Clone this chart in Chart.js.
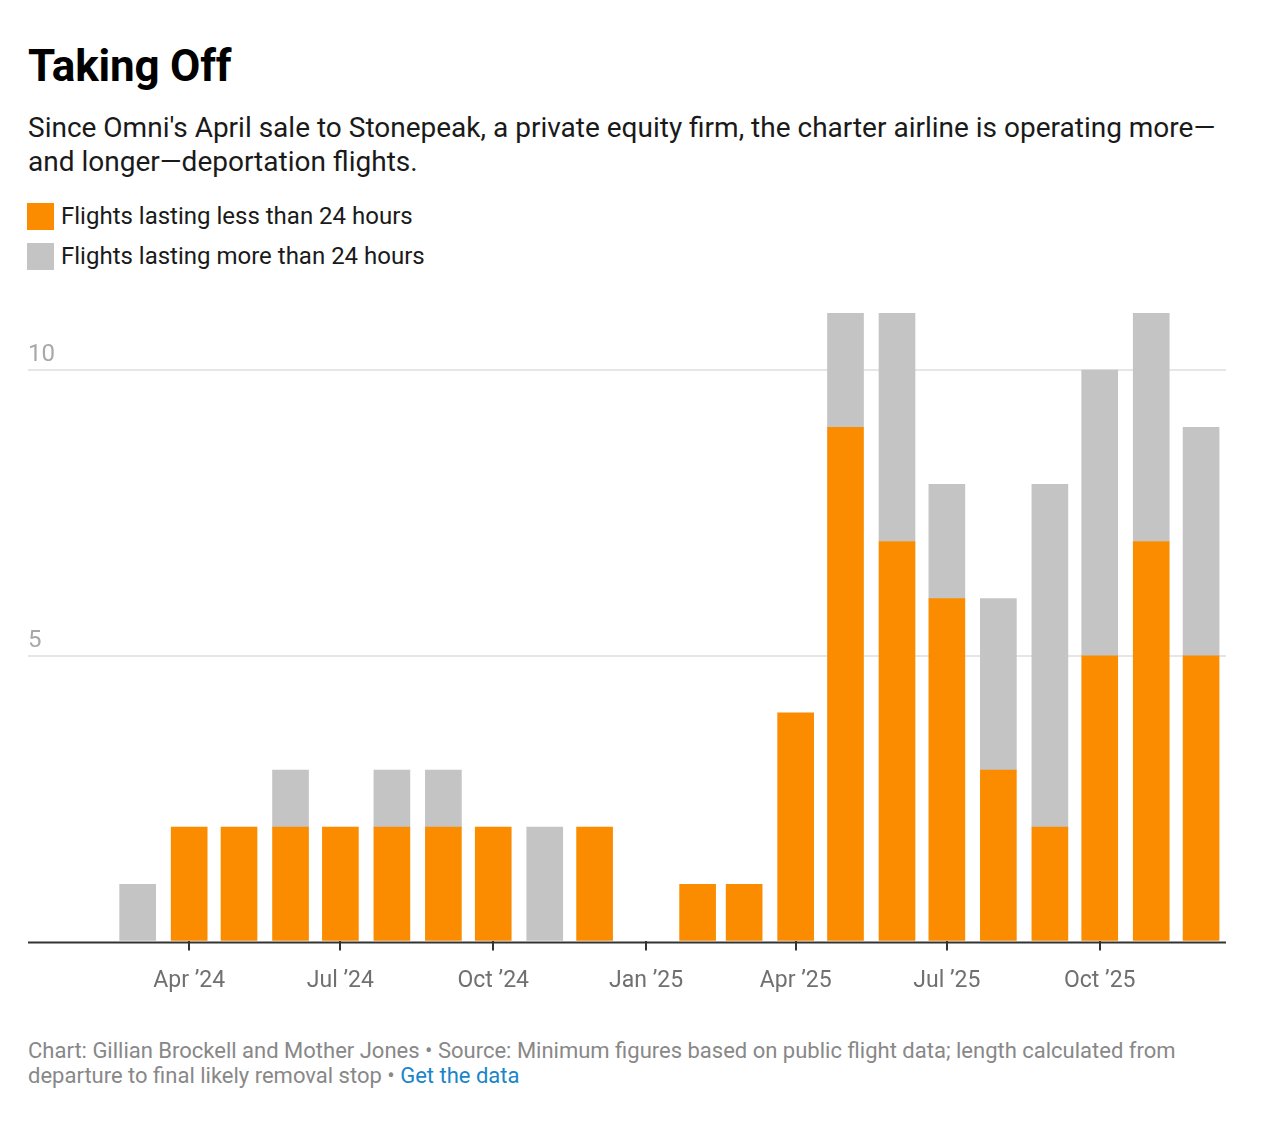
<!DOCTYPE html>
<html>
<head>
<meta charset="utf-8">
<script src="https://cdn.jsdelivr.net/npm/chart.js@4/dist/chart.umd.min.js"></script>
<style>
  html, body { margin: 0; padding: 0; background: #fff; }
  body { width: 1262px; height: 1127px; position: relative; font-family: Roboto, "Noto Sans", sans-serif; overflow: hidden; }
  .abs { position: absolute; left: 28px; white-space: nowrap; }
  #title { top: 40px; font-size: 44px; font-weight: 700; color: #000; line-height: 52px; letter-spacing: -0.2px; }
  #sub { top: 111px; font-size: 28px; color: #1a1a1a; line-height: 34px; }
  .leg { position: absolute; left: 27px; font-size: 24px; color: #1a1a1a; line-height: 28px; }
  .leg span.box { position: absolute; left: 0; top: 0; width: 27px; height: 27px; }
  .leg span.txt { position: absolute; left: 34px; top: -1px; white-space: nowrap; }
  #foot { top: 1038px; font-size: 22px; color: #888; line-height: 25px; }
  #foot a { color: #1a85c8; text-decoration: none; }
  #wrap { position: absolute; left: 0; top: 290px; width: 1262px; height: 725px; }
</style>
</head>
<body>
<div id="title" class="abs">Taking Off</div>
<div id="sub" class="abs">Since Omni's April sale to Stonepeak, a private equity firm, the charter airline is operating more—<br>and longer—deportation flights.</div>
<div class="leg" style="top:203px;"><span class="box" style="background:#fb8c00"></span><span class="txt">Flights lasting less than 24 hours</span></div>
<div class="leg" style="top:243px;"><span class="box" style="background:#c4c4c4"></span><span class="txt">Flights lasting more than 24 hours</span></div>
<div id="wrap"><canvas id="c"></canvas></div>
<div id="foot" class="abs">Chart: Gillian Brockell and Mother Jones • Source: Minimum figures based on public flight data; length calculated from<br>departure to final likely removal stop • <a href="#">Get the data</a></div>
<script>
// ---- Data ----
const months = ["2024-03","2024-04","2024-05","2024-06","2024-07","2024-08","2024-09","2024-10","2024-11","2024-12",
                "2025-01","2025-02","2025-03","2025-04","2025-05","2025-06","2025-07","2025-08","2025-09","2025-10","2025-11","2025-12"];
const under24 = [0,2,2,2,2,2,2,2,0,2, 0,1,1,4,9,7,6,3,2,5,7,5];
const over24  = [1,0,0,1,0,1,1,0,2,0, 0,0,0,0,2,4,2,3,6,5,4,4];
const tickMonths = ["2024-04","2024-07","2024-10","2025-01","2025-04","2025-07","2025-10"];
const tickLabels = ["Apr ’24","Jul ’24","Oct ’24","Jan ’25","Apr ’25","Jul ’25","Oct ’25"];
const yTicks = [5, 10];

function dayOf(m) { const [y, mo] = m.split("-").map(Number); return Date.UTC(y, mo - 1, 1) / 86400000; }
const xs = months.map(dayOf);
const tickDays = tickMonths.map(dayOf);

const yLabelPlugin = {
  id: 'yLabels',
  afterDatasetsDraw(chart) {
    const { ctx, chartArea, scales } = chart;
    ctx.save();
    ctx.strokeStyle = '#333';
    ctx.lineWidth = 2;
    ctx.beginPath();
    ctx.moveTo(chartArea.left, scales.y.getPixelForValue(0) + 1);
    ctx.lineTo(chartArea.right, scales.y.getPixelForValue(0) + 1);
    ctx.stroke();
    ctx.restore();
  },
  afterDraw(chart) {
    const { ctx, chartArea, scales } = chart;
    ctx.save();
    ctx.font = '24px Roboto';
    ctx.fillStyle = '#a8a8a8';
    ctx.textAlign = 'left';
    ctx.textBaseline = 'alphabetic';
    yTicks.forEach(v => {
      ctx.fillText(String(v), chartArea.left, scales.y.getPixelForValue(v) - 9);
    });
    ctx.restore();
  }
};

new Chart(document.getElementById('c'), {
  type: 'bar',
  data: {
    datasets: [
      { label: 'Flights lasting less than 24 hours', data: xs.map((x, i) => ({ x, y: under24[i] || null })), backgroundColor: '#fb8c00', barThickness: 36 },
      { label: 'Flights lasting more than 24 hours', data: xs.map((x, i) => ({ x, y: over24[i] || null })), backgroundColor: '#c4c4c4', barThickness: 36 }
    ]
  },
  options: {
    responsive: true,
    maintainAspectRatio: false,
    animation: false,
    layout: { padding: { left: 28, right: 36, top: 23, bottom: 3 } },
    plugins: { legend: { display: false }, tooltip: { enabled: false } },
    scales: {
      x: {
        type: 'linear',
        stacked: true,
        offset: false,
        min: dayOf("2024-04") - 97,
        max: dayOf("2025-10") + 76,
        afterBuildTicks(scale) { scale.ticks = tickDays.map(v => ({ value: v })); },
        ticks: {
          autoSkip: false, maxRotation: 0, padding: 17,
          color: '#707070', font: { family: 'Roboto', size: 23 },
          callback(value) { const i = tickDays.indexOf(value); return i >= 0 ? tickLabels[i] : ''; }
        },
        grid: { offset: false, drawOnChartArea: false, drawTicks: true, tickLength: 9, color: '#333', lineWidth: 2 },
        border: { display: false }
      },
      y: {
        stacked: true,
        min: 0, max: 11,
        afterBuildTicks(scale) { scale.ticks = [0].concat(yTicks).map(v => ({ value: v })); },
        ticks: { display: false },
        grid: { drawTicks: false, lineWidth: 2, color: (c) => c.tick && c.tick.value === 0 ? 'rgba(0,0,0,0)' : '#e6e6e6' },
        border: { display: false }
      }
    }
  },
  plugins: [yLabelPlugin]
});
</script>
</body>
</html>
